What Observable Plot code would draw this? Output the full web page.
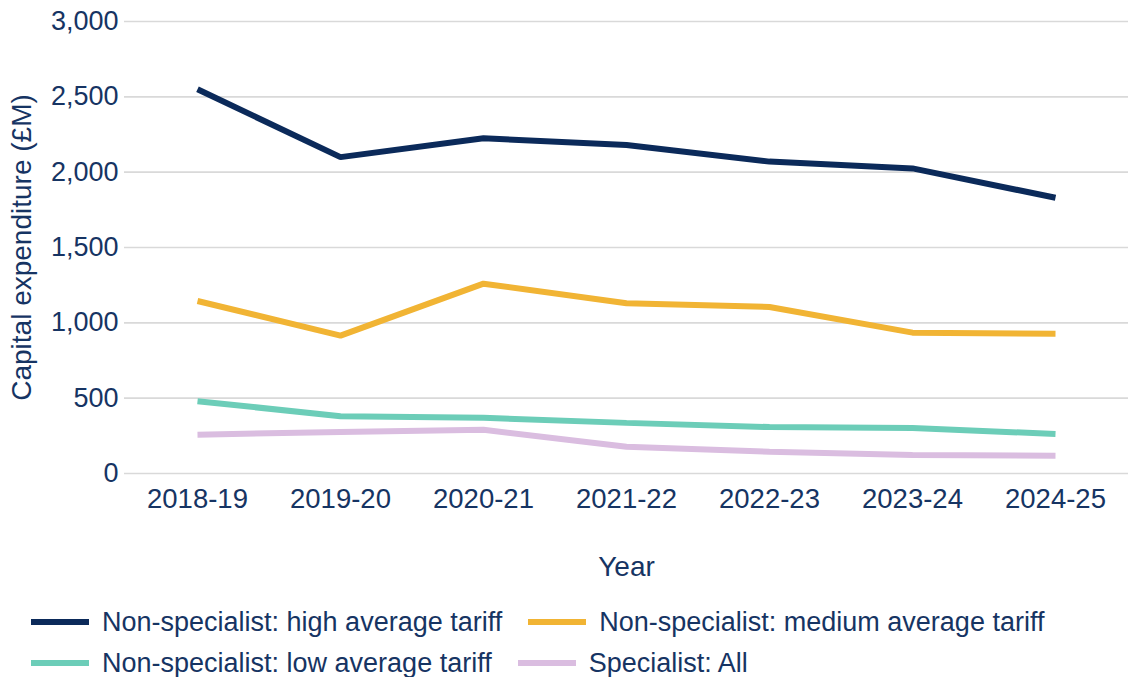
<!DOCTYPE html>
<html><head><meta charset="utf-8">
<script src="https://cdn.jsdelivr.net/npm/d3@7"></script>
<script src="https://cdn.jsdelivr.net/npm/@observablehq/plot@0.6"></script>
<style>
body{margin:0;background:#fff;font-family:"Liberation Sans",Arial,sans-serif;color:#163463;}
#legend{display:flex;flex-wrap:wrap;width:1090px;margin-left:31px;margin-top:18px;row-gap:13px;column-gap:26px;font-size:27px;}
.item{display:flex;align-items:center;height:28px;white-space:nowrap}
.sw{width:58px;height:6px;margin-right:13px}
</style></head><body>
<div id="chart"></div><div id="legend"></div>
<script>
const years = ["2018-19","2019-20","2020-21","2021-22","2022-23","2023-24","2024-25"];
const seriesNames = ["Non-specialist: high average tariff","Non-specialist: medium average tariff","Non-specialist: low average tariff","Specialist: All"];
const seriesColors = ["#0b2a5a","#f1b434","#6ccdb8","#dabde0"];
const high = [2550, 2100, 2225, 2180, 2070, 2025, 1830];
const medium = [1145, 915, 1260, 1130, 1105, 935, 928];
const low = [480, 380, 370, 336, 308, 302, 262];
const specialist = [258, 275, 290, 178, 145, 122, 118];
const yTicks = [0, 500, 1000, 1500, 2000, 2500, 3000];

const allSeries = [high, medium, low, specialist];
const data = [];
allSeries.forEach((vals, i) => vals.forEach((v, j) => data.push({year: years[j], series: seriesNames[i], value: v})));

const textColor = "#163463";
const chart = Plot.plot({
  width: 1128,
  height: 590,
  marginTop: 21,
  marginBottom: 117,
  marginLeft: 124,
  marginRight: 0,
  style: {fontFamily: '"Liberation Sans", Arial, sans-serif', fontSize: "27px", color: textColor, background: "#fff"},
  x: {type: "point", domain: years, padding: 0.5, label: "Year"},
  y: {domain: [0, 3000], label: "Capital expenditure (£M)"},
  color: {domain: seriesNames, range: seriesColors},
  marks: [
    Plot.ruleY(yTicks, {stroke: "#d9d9d9", strokeWidth: 1.6}),
    Plot.axisX({tickSize: 0, tickPadding: 15, fontSize: 27.5, label: null}),
    Plot.axisX({ticks: [], tickSize: 0, fontSize: 28, label: "Year", labelAnchor: "center", labelOffset: 102, labelArrow: "none"}),
    Plot.axisY({ticks: yTicks, tickFormat: d3.format(","), tickSize: 0, tickPadding: 6, fontSize: 27, label: null}),
    Plot.axisY({ticks: [], tickSize: 0, fontSize: 28, label: "Capital expenditure (£M)", labelAnchor: "center", labelOffset: 113, labelArrow: "none"}),
    Plot.line(data, {x: "year", y: "value", z: "series", stroke: "series", strokeWidth: 6, strokeLinejoin: "miter", strokeLinecap: "butt"})
  ]
});
document.getElementById("chart").appendChild(chart);

const legend = document.getElementById("legend");
seriesNames.forEach((name, i) => {
  const item = document.createElement("div");
  item.className = "item";
  const sw = document.createElement("span");
  sw.className = "sw";
  sw.style.background = seriesColors[i];
  const t = document.createElement("span");
  t.textContent = name;
  item.appendChild(sw); item.appendChild(t);
  legend.appendChild(item);
});
</script></body></html>
